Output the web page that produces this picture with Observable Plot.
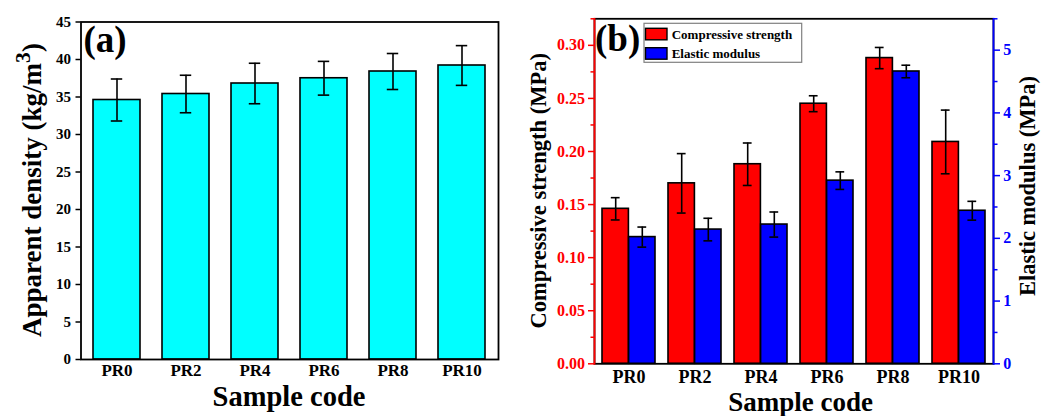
<!DOCTYPE html>
<html><head><meta charset="utf-8">
<script src="https://cdn.jsdelivr.net/npm/d3@7"></script>
<script src="https://cdn.jsdelivr.net/npm/@observablehq/plot@0.6"></script>
<style>
html,body{margin:0;padding:0;background:#fff;}
#wrap{position:relative;width:1053px;height:416px;overflow:hidden;background:#fff;}
#wrap svg{position:absolute;top:0;background:transparent !important;overflow:visible;}
#wrap svg, #wrap svg text{font-family:"Liberation Serif","Times New Roman",serif !important;font-weight:bold;}
</style></head><body><div id="wrap"></div>
<script>
// ---- data ----
const samples = ["PR0", "PR2", "PR4", "PR6", "PR8", "PR10"];
const density = [34.6, 35.4, 36.8, 37.5, 38.4, 39.2];
const densityErr = [2.8, 2.5, 2.7, 2.25, 2.4, 2.65];
const compStrength = [0.146, 0.170, 0.188, 0.245, 0.288, 0.209];
const compStrengthErr = [0.0105, 0.028, 0.020, 0.0075, 0.010, 0.030];
const elasticModulus = [2.02, 2.14, 2.22, 2.92, 4.66, 2.44];
const elasticModulusErr = [0.16, 0.18, 0.20, 0.14, 0.10, 0.15];
const densityTicks = [0, 5, 10, 15, 20, 25, 30, 35, 40, 45];
const strengthTicks = [0, 0.05, 0.10, 0.15, 0.20, 0.25, 0.30];
const strengthMinorTicks = [0.025, 0.075, 0.125, 0.175, 0.225, 0.275, 0.325];
const modulusTicks = [0, 1, 2, 3, 4, 5];
const modulusMinorTicks = [0.5, 1.5, 2.5, 3.5, 4.5, 5.5];
const seriesNames = ["Compressive strength", "Elastic modulus"];

const FONT = '"Liberation Serif", "Times New Roman", serif';
const H = 416;
const wrap = document.getElementById("wrap");
const svgStyle = `font-family: ${FONT}; font-weight: bold; background: transparent; overflow: visible;`;

function addText(svg, o) {
  const t = d3.select(svg).append("text")
    .attr("x", o.x).attr("y", o.y)
    .attr("text-anchor", o.anchor || "middle")
    .attr("font-family", FONT).attr("font-weight", "bold")
    .attr("font-size", o.size).attr("fill", o.fill || "#000");
  if (o.rotate) t.attr("transform", `rotate(${o.rotate},${o.x},${o.y})`);
  if (o.parts) {
    o.parts.forEach(p => {
      const s = t.append("tspan").text(p.text);
      if (p.sup) s.attr("font-size", o.size * 0.8).attr("dy", -o.size * 0.4);
      if (p.after) s.attr("dy", o.size * 0.4);
    });
  } else t.text(o.text);
  return t;
}

// ---- panel (a) ----
const WA = 520;
const mA = {left: 80.5, right: 22, top: 21.5, bottom: 57};
const piA = 0.316, poA = 0.16;
const bwA = (WA - mA.left - mA.right) / (samples.length - piA + 2 * poA) * (1 - piA);
const dataA = samples.map((s, i) => ({sample: s, v: density[i], lo: density[i] - densityErr[i], hi: density[i] + densityErr[i]}));
const capA = (bwA - 12) / 2;

const plotA = Plot.plot({
  width: WA, height: H,
  marginLeft: mA.left, marginRight: mA.right, marginTop: mA.top, marginBottom: mA.bottom,
  style: svgStyle,
  x: {domain: samples, paddingInner: piA, paddingOuter: poA},
  y: {domain: [0, 45]},
  marks: [
    Plot.barY(dataA, {x: "sample", y: "v", fill: "#00ffff", stroke: "#000", strokeWidth: 1.6}),
    Plot.ruleX(dataA, {x: "sample", y1: "lo", y2: "hi", stroke: "#000", strokeWidth: 1.6}),
    Plot.tickY(dataA, {x: "sample", y: "lo", insetLeft: capA, insetRight: capA, stroke: "#000", strokeWidth: 1.6}),
    Plot.tickY(dataA, {x: "sample", y: "hi", insetLeft: capA, insetRight: capA, stroke: "#000", strokeWidth: 1.6}),
    Plot.frame({stroke: "#000", strokeWidth: 1.8}),
    Plot.axisY({ticks: densityTicks, tickSize: 5, tickPadding: 5, fontSize: 15, fontWeight: "bold", fontFamily: FONT, label: null, strokeWidth: 1.5, tickFormat: d => String(d)}),
    Plot.axisX({tickSize: 0, tickPadding: 4.6, fontSize: 17, fontWeight: "bold", fontFamily: FONT, label: null})
  ]
});
plotA.style.left = "0px";
wrap.appendChild(plotA);
addText(plotA, {x: 83.5, y: 52, text: "(a)", size: 37, anchor: "start"});
addText(plotA, {x: 41, y: 190, size: 27, rotate: -90,
  parts: [{text: "Apparent density (kg/m"}, {text: "3", sup: true}, {text: ")", after: true}]});
addText(plotA, {x: 289, y: 406, text: "Sample code", size: 28.5});

// ---- panel (b) ----
const WB = 533;
const mB = {left: 74, right: 60, top: 18.3, bottom: 52.7};
const piB = 0.2, poB = 0.1;
const bwB = (WB - mB.left - mB.right) / (samples.length - piB + 2 * poB) * (1 - piB);
const dataB = samples.map((s, i) => ({
  sample: s,
  cs: compStrength[i], csLo: compStrength[i] - compStrengthErr[i], csHi: compStrength[i] + compStrengthErr[i],
  em: elasticModulus[i], emLo: elasticModulus[i] - elasticModulusErr[i], emHi: elasticModulus[i] + elasticModulusErr[i]
}));
const capHalf = 4.5;
const common = {
  width: WB, height: H,
  marginLeft: mB.left, marginRight: mB.right, marginTop: mB.top, marginBottom: mB.bottom,
  style: svgStyle
};

const plotB1 = Plot.plot({
  ...common,
  x: {domain: samples, paddingInner: piB, paddingOuter: poB},
  y: {domain: [0, 0.325]},
  marks: [
    Plot.barY(dataB, {x: "sample", y: "cs", insetRight: bwB / 2, fill: "#ff0000", stroke: "#000", strokeWidth: 1.6}),
    Plot.ruleX(dataB, {x: "sample", y1: "csLo", y2: "csHi", dx: -bwB / 4, stroke: "#000", strokeWidth: 1.6}),
    Plot.tickY(dataB, {x: "sample", y: "csLo", insetLeft: bwB / 4 - capHalf, insetRight: 3 * bwB / 4 - capHalf, stroke: "#000", strokeWidth: 1.6}),
    Plot.tickY(dataB, {x: "sample", y: "csHi", insetLeft: bwB / 4 - capHalf, insetRight: 3 * bwB / 4 - capHalf, stroke: "#000", strokeWidth: 1.6}),
    Plot.frame({stroke: "#000", strokeWidth: 1.8}),
    Plot.frame({anchor: "left", stroke: "#ff0000", strokeWidth: 1.8}),
    Plot.axisY({ticks: strengthTicks, tickSize: 6, tickPadding: 3.5, fontSize: 16, fontWeight: "bold", fontFamily: FONT, color: "#ff0000", label: null, strokeWidth: 1.5, tickFormat: d3.format(".2f")}),
    Plot.axisY({ticks: strengthMinorTicks, tickSize: 3.5, color: "#ff0000", label: null, strokeWidth: 1.5, tickFormat: () => ""}),
    Plot.axisX({tickSize: 0, tickPadding: 6.2, fontSize: 18, fontWeight: "bold", fontFamily: FONT, label: null})
  ]
});
plotB1.style.left = "520px";
wrap.appendChild(plotB1);

const plotB2 = Plot.plot({
  ...common,
  x: {domain: samples, paddingInner: piB, paddingOuter: poB, axis: null},
  y: {domain: [0, 5.5]},
  marks: [
    Plot.barY(dataB, {x: "sample", y: "em", insetLeft: bwB / 2, fill: "#0000ff", stroke: "#000", strokeWidth: 1.6}),
    Plot.ruleX(dataB, {x: "sample", y1: "emLo", y2: "emHi", dx: bwB / 4, stroke: "#000", strokeWidth: 1.6}),
    Plot.tickY(dataB, {x: "sample", y: "emLo", insetLeft: 3 * bwB / 4 - capHalf, insetRight: bwB / 4 - capHalf, stroke: "#000", strokeWidth: 1.6}),
    Plot.tickY(dataB, {x: "sample", y: "emHi", insetLeft: 3 * bwB / 4 - capHalf, insetRight: bwB / 4 - capHalf, stroke: "#000", strokeWidth: 1.6}),
    Plot.frame({anchor: "right", stroke: "#0000ff", strokeWidth: 1.8}),
    Plot.axisY({anchor: "right", ticks: modulusTicks, tickSize: 6, tickPadding: 3.7, fontSize: 16, fontWeight: "bold", fontFamily: FONT, color: "#0000ff", label: null, strokeWidth: 1.5, tickFormat: d => String(d)}),
    Plot.axisY({anchor: "right", ticks: modulusMinorTicks, tickSize: 3.5, color: "#0000ff", label: null, strokeWidth: 1.5, tickFormat: () => ""})
  ]
});
plotB2.style.left = "520px";
plotB2.style.pointerEvents = "none";
wrap.appendChild(plotB2);

addText(plotB1, {x: 75, y: 51, text: "(b)", size: 37, anchor: "start"});
addText(plotB1, {x: 25.7, y: 190.8, text: "Compressive strength (MPa)", size: 22.5, rotate: -90});
addText(plotB2, {x: 515, y: 186, text: "Elastic modulus (MPa)", size: 22.5, rotate: -90});
addText(plotB1, {x: 280.6, y: 411, text: "Sample code", size: 27});

// legend
const lg = d3.select(plotB1).append("g");
lg.append("rect").attr("x", 124).attr("y", 23.3).attr("width", 157.7).attr("height", 39)
  .attr("fill", "#fff").attr("stroke", "#808080").attr("stroke-width", 1.2);
const swatchColors = ["#ff0000", "#0000ff"];
seriesNames.forEach((name, i) => {
  const y0 = 28.3 + i * 19.4;
  lg.append("rect").attr("x", 125.5).attr("y", y0).attr("width", 21.5).attr("height", 11.5)
    .attr("fill", swatchColors[i]).attr("stroke", "#000").attr("stroke-width", 1.4);
  addText(plotB1, {x: 151.7, y: y0 + 10.2, text: name, size: 13, anchor: "start"});
});
</script></body></html>
